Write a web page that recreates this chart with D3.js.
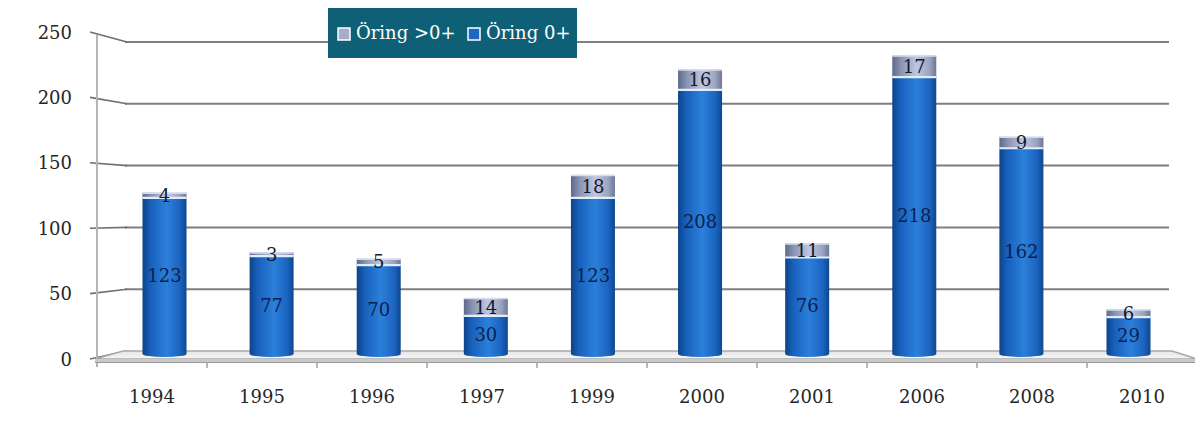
<!DOCTYPE html>
<html>
<head>
<meta charset="utf-8">
<script src="https://cdn.jsdelivr.net/npm/d3@7"></script>
<style>
  html, body { margin: 0; padding: 0; background: #ffffff; }
  svg { display: block; }
</style>
</head>
<body>
<svg id="chart" width="1195" height="436"></svg>
<script>
// ---- data ----
const years = ["1994", "1995", "1996", "1997", "1999", "2000", "2001", "2006", "2008", "2010"];
const oring0 = [123, 77, 70, 30, 123, 208, 76, 218, 162, 29];     // Öring 0+
const oringOver0 = [4, 3, 5, 14, 18, 16, 11, 17, 9, 6];            // Öring >0+
const yTicks = [0, 50, 100, 150, 200, 250];
const seriesNames = ["Öring >0+", "Öring 0+"];

const svg = d3.select("#chart");
const defs = svg.append("defs");

// scales (3D-ish: front plane, back wall, bar plane)
const yFront = d3.scaleLinear().domain([0, 250]).range([359, 32]);
const yBack = d3.scaleLinear().domain([0, 250]).range([351, 42]);
const yBar = d3.scaleLinear().domain([0, 250]).range([354, 36.5]);
const xFront = d3.scaleBand().domain(years).range([97, 1197]);
const xBar = d3.scalePoint().domain(years).range([164.5, 1128.5]);
const barW = 44;
const backLeft = 125, backRight = 1169, sideFront = 90;

// gradients
const gBlue = defs.append("linearGradient").attr("id", "gBlue").attr("x1", "0").attr("x2", "1");
[["0%", "#0b4389"], ["18%", "#1860bb"], ["55%", "#2b80da"], ["85%", "#1b64bf"], ["100%", "#0d4790"]]
  .forEach(([o, c]) => gBlue.append("stop").attr("offset", o).attr("stop-color", c));
const gGray = defs.append("linearGradient").attr("id", "gGray").attr("x1", "0").attr("x2", "1");
[["0%", "#5f6a8a"], ["20%", "#8a94b3"], ["55%", "#c0c7de"], ["85%", "#9aa3c0"], ["100%", "#6d7796"]]
  .forEach(([o, c]) => gGray.append("stop").attr("offset", o).attr("stop-color", c));
const gFloor = defs.append("linearGradient").attr("id", "gFloor").attr("x1", "0").attr("x2", "0").attr("y1", "0").attr("y2", "1");
[["0%", "#e4e4e4"], ["100%", "#f7f7f7"]]
  .forEach(([o, c]) => gFloor.append("stop").attr("offset", o).attr("stop-color", c));

// back wall gridlines
const grid = svg.append("g");
yTicks.filter(t => t > 0).forEach(t => {
  grid.append("line")
    .attr("x1", backLeft).attr("x2", backRight)
    .attr("y1", yBack(t)).attr("y2", yBack(t))
    .attr("stroke", "#7e7e7e").attr("stroke-width", 2);
});
// side wall diagonals
yTicks.forEach(t => {
  grid.append("line")
    .attr("x1", sideFront).attr("y1", yFront(t))
    .attr("x2", backLeft + 2).attr("y2", yBack(t))
    .attr("stroke", "#707070").attr("stroke-width", 1.6);
});
// vertical axis line
grid.append("line")
  .attr("x1", 97).attr("x2", 97).attr("y1", 35).attr("y2", 367)
  .attr("stroke", "#b5b5b5").attr("stroke-width", 2);

// floor
const floor = svg.append("g");
floor.append("path")
  .attr("d", `M${backLeft - 2},351 L${backRight + 3},351 L1197,359 L95,359 Z`)
  .attr("fill", "url(#gFloor)").attr("stroke", "#a9a9a9").attr("stroke-width", 1.5);
floor.append("rect")
  .attr("x", 95).attr("y", 359).attr("width", 1102).attr("height", 3)
  .attr("fill", "#c9c9c9");
floor.append("line")
  .attr("x1", 95).attr("x2", 1197).attr("y1", 362.5).attr("y2", 362.5)
  .attr("stroke", "#9a9a9a").attr("stroke-width", 1.2);
// category ticks
years.slice(1).forEach(y => {
  floor.append("line")
    .attr("x1", xFront(y)).attr("x2", xFront(y))
    .attr("y1", 362).attr("y2", 368)
    .attr("stroke", "#a0a0a0").attr("stroke-width", 1.5);
});

// bars (cylinders)
const bars = svg.append("g");
years.forEach((yr, i) => {
  const cx = xBar(yr);
  const x0 = cx - barW / 2;
  const v0 = oring0[i], v1 = oring0[i] + oringOver0[i];
  const base = yBar(0), top0 = yBar(v0), top1 = yBar(v1);
  const ry = 3;
  // blue segment with rounded bottom
  bars.append("path")
    .attr("d", `M${x0},${top0} L${x0},${base} A${barW / 2},${ry} 0 0 0 ${x0 + barW},${base} L${x0 + barW},${top0} Z`)
    .attr("fill", "url(#gBlue)");
  // gray segment
  bars.append("rect")
    .attr("x", x0).attr("y", top1).attr("width", barW).attr("height", top0 - top1)
    .attr("fill", "url(#gGray)");
  // top highlight
  bars.append("line")
    .attr("x1", x0).attr("x2", x0 + barW).attr("y1", top1 + 0.5).attr("y2", top1 + 0.5)
    .attr("stroke", "#d5dcee").attr("stroke-width", 1.5);
  // segment boundary highlight
  bars.append("line")
    .attr("x1", x0).attr("x2", x0 + barW).attr("y1", top0).attr("y2", top0)
    .attr("stroke", "#e2edf9").attr("stroke-width", 2.2);
  // labels
  bars.append("text")
    .attr("x", cx).attr("y", (base + top0) / 2)
    .attr("text-anchor", "middle").attr("dominant-baseline", "central")
    .attr("font-family", "DejaVu Serif").attr("font-size", 18)
    .attr("fill", "#0c1f50").text(v0);
  bars.append("text")
    .attr("x", cx).attr("y", (top0 + top1) / 2)
    .attr("text-anchor", "middle").attr("dominant-baseline", "central")
    .attr("font-family", "DejaVu Serif").attr("font-size", 18)
    .attr("fill", "#14182e").text(oringOver0[i]);
});

// y axis labels
svg.append("g").selectAll("text").data(yTicks).join("text")
  .attr("x", 72).attr("y", d => yFront(d))
  .attr("text-anchor", "end").attr("dominant-baseline", "central")
  .attr("font-family", "DejaVu Serif").attr("font-size", 18)
  .attr("fill", "#262626").text(d => d);

// x axis labels
svg.append("g").selectAll("text").data(years).join("text")
  .attr("x", d => xFront(d) + xFront.bandwidth() / 2).attr("y", 396)
  .attr("text-anchor", "middle").attr("dominant-baseline", "central")
  .attr("font-family", "DejaVu Serif").attr("font-size", 18)
  .attr("fill", "#262626").text(d => d);

// legend
const lg = svg.append("g");
lg.append("rect").attr("x", 328).attr("y", 8).attr("width", 249).attr("height", 50).attr("fill", "#0d6075");
const legendItems = [
  { name: seriesNames[0], fill: "#a7aecb", x: 338 },
  { name: seriesNames[1], fill: "#1e66c6", x: 468 }
];
legendItems.forEach(it => {
  lg.append("rect").attr("x", it.x).attr("y", 28).attr("width", 12).attr("height", 12)
    .attr("fill", it.fill).attr("stroke", "#ffffff").attr("stroke-width", 1.5);
  lg.append("text").attr("x", it.x + 18).attr("y", 39)
    .attr("font-family", "DejaVu Serif").attr("font-size", 18)
    .attr("fill", "#ffffff").text(it.name);
});
</script>
</body>
</html>
